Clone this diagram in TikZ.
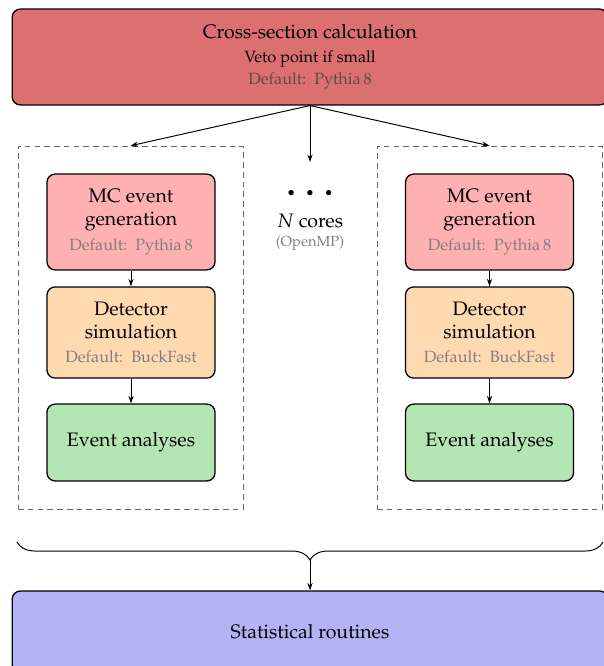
\documentclass[tikz,border=0pt]{standalone}
\usepackage[T1]{fontenc}
\usepackage{mathpazo}
\usetikzlibrary{arrows.meta,decorations.pathreplacing}

\definecolor{xsecred}{RGB}{220,112,112}
\definecolor{genpink}{RGB}{255,176,176}
\definecolor{detpeach}{RGB}{255,217,176}
\definecolor{anagreen}{RGB}{179,230,179}
\definecolor{statblue}{RGB}{178,178,245}
\definecolor{defgray}{RGB}{128,128,128}
\definecolor{defdark}{RGB}{98,72,72}

\begin{document}
\begin{tikzpicture}[x=0.0216cm, y=-0.0216cm, >={Stealth[length=4.6pt,width=3.2pt]},
    box/.style={draw, thick, rounded corners=5pt, align=center, font=\large},
    stagebox/.style={box, minimum width=3.63cm},
    corebox/.style={draw=black!60, dash pattern=on 3.5pt off 2.5pt, minimum width=4.86cm, minimum height=7.84cm},
    flow/.style={->, semithick}]
    \useasboundingbox (0,0) rectangle (603,666);

    % top and bottom
    \node[box, fill=xsecred, minimum width=12.87cm, minimum height=2.07cm] (xsec) at (310,57)
        {Cross-section calculation\\[0.5pt]{\normalsize Veto point if small}\\{\normalsize\color{defdark}Default:\ \ Pythia\,8}};
    \node[box, fill=statblue, minimum width=12.87cm, minimum height=1.77cm] (stat) at (310,632) {Statistical routines};

    % the cores
    \node[corebox] (coreL) at (130.5,327.5) {};
    \node[corebox] (coreR) at (489.5,327.5) {};
    \foreach \side/\cx in {L/131, R/489.5}{
        \node[stagebox, fill=genpink, minimum height=2.07cm] (gen\side) at (\cx,222)
            {MC event\\generation\\[1.3pt]{\normalsize\color{defgray}Default:\ \ Pythia\,8}};
        \node[stagebox, fill=detpeach, minimum height=1.97cm] (det\side) at (\cx,332.5)
            {Detector\\simulation\\[1.3pt]{\normalsize\color{defgray}Default:\ \ BuckFast}};
        \node[stagebox, fill=anagreen, minimum height=1.66cm] (ana\side) at (\cx,442.5) {Event analyses};
        \draw[flow] (gen\side) -- (det\side);
        \draw[flow] (det\side) -- (ana\side);
    }

    \node[font=\footnotesize] (dots) at (310,193) {$\bullet\hspace{5.6pt}\bullet\hspace{5.6pt}\bullet$};
    \node[font=\large] (ncores) at (310,221) {$N$ cores};
    \node[font=\small, text=defgray] (openmp) at (310,243) {(OpenMP)};
    \coordinate (coresin) at (310,162);

    \draw[flow] (xsec.south) -- (coreL.north);
    \draw[flow] (xsec.south) -- (coresin);
    \draw[flow] (xsec.south) -- (coreR.north);

    % collect
    \coordinate (braceL) at (17,542);
    \coordinate (braceR) at (603,542);
    \coordinate (bracetip) at (310,560);
    \draw[semithick, decorate, decoration={brace, mirror, amplitude=0.39cm}] (braceL) -- (braceR);
    \draw[flow] (bracetip) -- (stat.north);
\end{tikzpicture}
\end{document}
